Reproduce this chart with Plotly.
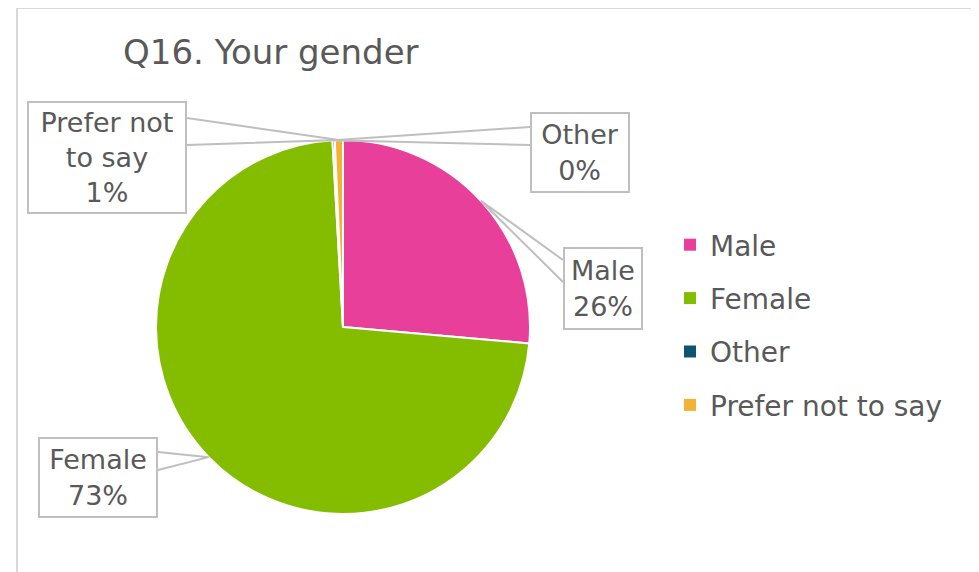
import math
import plotly.graph_objects as go

W, H = 979, 572
OFF = 8  # page body margin

categories = ["Male", "Female", "Other", "Prefer not to say"]
values = [26.4, 72.7, 0.2, 0.7]
colors = ["#E8409A", "#84BD00", "#0E5470", "#F4B232"]
callout_text = ["Male", "Female", "Other", "Prefer not<br>to say"]
title_text = "Q16. Your gender"

FONT = "DejaVu Sans"
TXT = "#595959"
GREY = "#BFBFBF"

def px(x):
    return (x - OFF) / W

def py(y):
    return 1 - (y - OFF) / H

# pie geometry (pixels)
pie_left, pie_top, pie_size = 156, 140, 374
cx, cy, r = pie_left + pie_size / 2, pie_top + pie_size / 2, pie_size / 2

fig = go.Figure()
fig.add_trace(go.Pie(
    labels=categories, values=values, sort=False, direction="clockwise",
    rotation=0, textinfo="none", hoverinfo="skip", showlegend=False,
    marker=dict(colors=colors, line=dict(color="white", width=2)),
    domain=dict(x=[px(pie_left), px(pie_left + pie_size)],
                y=[py(pie_top + pie_size), py(pie_top)]),
))

# legend entries (one per category, grouped so spacing can be controlled)
for cat, col in zip(categories, colors):
    fig.add_trace(go.Scatter(
        x=[None], y=[None], mode="markers", name=cat, legendgroup=cat,
        marker=dict(symbol="square", size=12, color=col),
        hoverinfo="skip",
    ))

boxes = {
    "Male": dict(c=(603, 288.5), s=(80, 83), e=[(563, 260), (563, 282)]),
    "Female": dict(c=(98, 477.5), s=(120, 81), e=[(158, 452), (158, 470)]),
    "Other": dict(c=(580, 152.5), s=(100, 81), e=[(530, 127), (530, 145)]),
    "Prefer not to say": dict(c=(107, 157.5), s=(160, 113), e=[(187, 118), (187, 145)]),
}

total = sum(values)
cum = 0.0
shapes = []
annotations = []
for cat, v, lab in zip(categories, values, callout_text):
    mid = (cum + v / 2) / total * 2 * math.pi
    cum += v
    ax = cx + r * math.sin(mid)
    ay = cy - r * math.cos(mid)
    b = boxes[cat]
    (x1, y1), (x2, y2) = b["e"]
    shapes.append(dict(
        type="path", xref="paper", yref="paper",
        path=f"M {px(x1)},{py(y1)} L {px(ax)},{py(ay)} L {px(x2)},{py(y2)}",
        line=dict(color=GREY, width=2), layer="above",
    ))
    pct = round(v / total * 100)
    annotations.append(dict(
        x=px(b["c"][0]), y=py(b["c"][1]), xref="paper", yref="paper",
        xanchor="center", yanchor="middle", showarrow=False,
        text=f"{lab}<br>{pct}%", align="center",
        width=b["s"][0] - 4, height=b["s"][1] - 4, borderpad=0,
        bordercolor=GREY, borderwidth=2, bgcolor="white",
        font=dict(family=FONT, size=27, color=TXT),
    ))

# chart frame
shapes.insert(0, dict(type="rect", xref="paper", yref="paper",
                      x0=px(17), y0=py(8), x1=px(W + 30), y1=py(H + 30),
                      line=dict(color="#D9D9D9", width=2), layer="below"))

annotations.append(dict(
    x=px(121), y=py(52), xref="paper", yref="paper", xanchor="left",
    yanchor="middle", showarrow=False, text=title_text,
    font=dict(family=FONT, size=34, color=TXT),
))

fig.update_layout(
    width=W, height=H, margin=dict(l=0, r=0, t=0, b=0),
    paper_bgcolor="white", plot_bgcolor="white",
    xaxis=dict(visible=False), yaxis=dict(visible=False),
    shapes=shapes, annotations=annotations,
    showlegend=True,
    legend=dict(x=px(670), y=py(220), xanchor="left", yanchor="top",
                font=dict(family=FONT, size=28, color=TXT),
                tracegroupgap=14, itemwidth=30, bgcolor="rgba(0,0,0,0)",
                traceorder="grouped"),
)

fig.write_html("out.html")
